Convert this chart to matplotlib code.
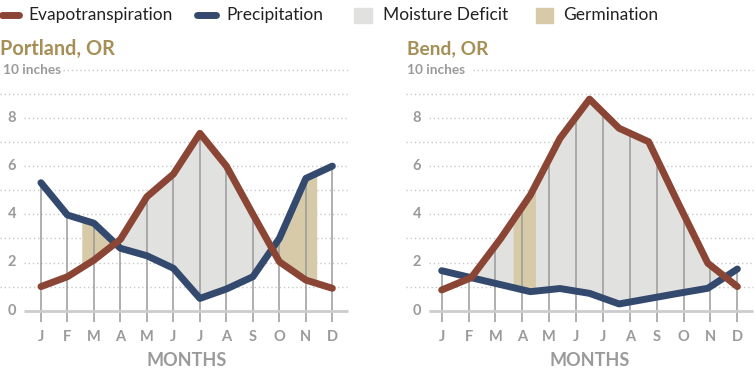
import numpy as np
import matplotlib
matplotlib.use("Agg")
import matplotlib.pyplot as plt
from matplotlib.patches import Rectangle
from matplotlib.lines import Line2D

plt.rcParams['font.family'] = ['Lato', 'DejaVu Sans']

months = ["J", "F", "M", "A", "M", "J", "J", "A", "S", "O", "N", "D"]
yticks = [0, 2, 4, 6, 8]

portland_et = [1.0, 1.41, 2.1, 2.96, 4.73, 5.67, 7.36, 6.0, 4.0, 2.03, 1.27, 0.93]
portland_pr = [5.31, 3.97, 3.63, 2.59, 2.28, 1.76, 0.51, 0.9, 1.41, 3.0, 5.49, 6.0]
portland_germ = [(1.54, 2.68), (8.68, 10.41)]

bend_et = [0.86, 1.37, 3.0, 4.8, 7.15, 8.78, 7.57, 7.01, 4.46, 1.97, 1.0]
bend_pr = [1.66, 1.37, 1.08, 0.79, 0.92, 0.72, 0.28, 0.5, 0.72, 0.93, 1.73]
bend_germ = [(2.66, 3.49)]

C_ET = "#8b4535"
C_PR = "#34496e"
C_DEF = "#e1e1e0"
C_GERM = "#d6caa9"
C_GRAY = "#9a9a9a"
C_TITLE = "#a68f57"
C_DOT = "#c8c8c8"

W, H = 755, 370
fig = plt.figure(figsize=(W / 100, H / 100), dpi=100)


def fx(px):
    return px / W


def fy(py):
    return 1 - py / H


def panel(left_px, right_px, xlo, xhi, title, et, pr, germ,
          unl_start, lab_start, ten_start, ten_x, lab_x, title_x, tsize):
    ax = fig.add_axes([fx(left_px), fy(334.8), fx(right_px - left_px), 265.1 / H])
    ax.set_xlim(xlo, xhi)
    ax.set_ylim(-1.0, 10.0)
    ax.axis("off")
    x = np.linspace(0, 11, len(et))
    xf = np.linspace(0, 11, 2201)
    etf = np.interp(xf, x, et)
    prf = np.interp(xf, x, pr)
    ax.fill_between(xf, etf, prf, where=etf > prf, color=C_DEF, lw=0,
                    interpolate=True, zorder=1)
    for a, b in germ:
        m = (xf >= a) & (xf <= b)
        ax.fill_between(xf, etf, prf, where=m, color=C_GERM, lw=0, zorder=2)
    # dotted grid
    for v in range(1, 11):
        if v == 10:
            s = ten_start
        elif v in yticks:
            s = lab_start
        else:
            s = unl_start
        ax.plot([s, xhi], [v, v], color=C_DOT, lw=1.0, ls=(0, (1, 2)),
                clip_on=False, zorder=0.5)
    # vertical month lines
    mx = np.arange(12)
    tops = np.maximum(np.interp(mx, x, et), np.interp(mx, x, pr))
    ax.vlines(mx, -0.46, tops, color=C_GRAY, lw=1.1, zorder=3)
    ax.plot([xlo, xhi], [0, 0], color="#cccccc", lw=2, zorder=3,
            solid_capstyle="butt", clip_on=False)
    ax.plot(x, pr, color=C_PR, lw=5.0, solid_capstyle="round",
            solid_joinstyle="round", zorder=5, clip_on=False)
    ax.plot(x, et, color=C_ET, lw=5.0, solid_capstyle="round",
            solid_joinstyle="round", zorder=6, clip_on=False)
    for v in yticks:
        ax.text(lab_x, v, str(v), ha="center", va="center", color=C_GRAY,
                fontsize=10.5, fontweight="bold", clip_on=False)
    ax.text(ten_x, 10, "10 inches", ha="left", va="center", color=C_GRAY,
            fontsize=9.8, fontweight="bold")
    ax.text(title_x, 10.86, title, ha="left", va="center", color=C_TITLE,
            fontsize=tsize, fontweight="bold")
    for i, m in enumerate(months):
        ax.text(i, -1.08, m, ha="center", va="center", color=C_GRAY,
                fontsize=10.5, fontweight="bold", clip_on=False)
    ax.text(5.5, -2.05, "MONTHS", ha="center", va="center", color=C_GRAY,
            fontsize=13, fontweight="bold", clip_on=False)
    return ax


panel(24, 348, -0.64, 11.59, "Portland, OR", portland_et, portland_pr,
      portland_germ, unl_start=-1.548, lab_start=-0.64, ten_start=0.83,
      ten_x=-1.435, lab_x=-1.095, title_x=-1.548, tsize=14.3)
panel(429.3, 752.7, -0.46, 11.57, "Bend, OR", bend_et, bend_pr,
      bend_germ, unl_start=-1.33, lab_start=-0.46, ten_start=1.18,
      ten_x=-1.30, lab_x=-0.93, title_x=-1.30, tsize=13.8)

# legend
ly = fy(15)
fig.add_artist(Line2D([fx(2), fx(19)], [ly, ly], color=C_ET, lw=5.0,
                      solid_capstyle="round"))
fig.text(fx(28), ly, "Evapotranspiration", ha="left", va="center",
         fontsize=12.5, color="#222222")
fig.add_artist(Line2D([fx(197), fx(216)], [ly, ly], color=C_PR, lw=5.0,
                      solid_capstyle="round"))
fig.text(fx(226), ly, "Precipitation", ha="left", va="center",
         fontsize=12.5, color="#222222")
fig.add_artist(Rectangle((fx(354), fy(23)), fx(18), 15 / H, color=C_DEF,
                         transform=fig.transFigure))
fig.text(fx(383), ly, "Moisture Deficit", ha="left", va="center",
         fontsize=12.5, color="#222222")
fig.add_artist(Rectangle((fx(536), fy(23)), fx(17), 15 / H, color=C_GERM,
                         transform=fig.transFigure))
fig.text(fx(563), ly, "Germination", ha="left", va="center",
         fontsize=12.5, color="#222222")

fig.savefig("out.png", dpi=100)
